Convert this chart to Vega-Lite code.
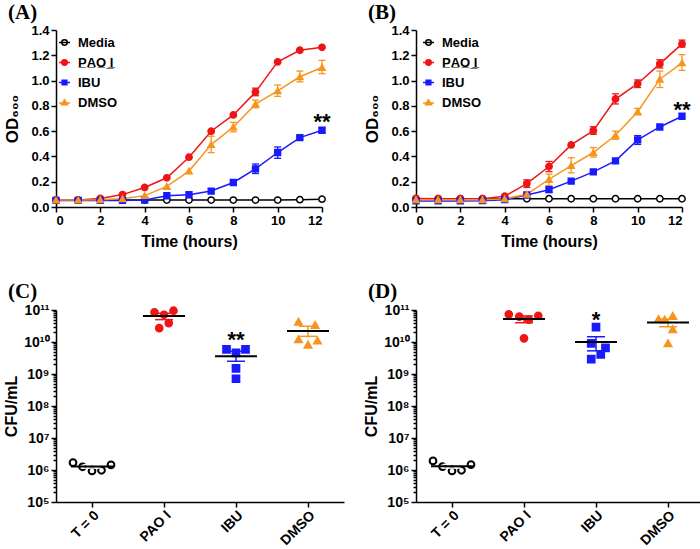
{
  "$schema": "https://vega.github.io/schema/vega-lite/v6.json",
  "padding": {"left": 3, "top": 2, "right": 0, "bottom": 0},
  "background": "white",
  "columns": 2,
  "spacing": {"row": 103, "column": 72},
  "bounds": "flush",
  "resolve": {
    "scale": {"shape": "independent", "fill": "independent", "stroke": "independent"},
    "legend": {"shape": "independent", "fill": "independent", "stroke": "independent"}
  },
  "config": {
    "font": "Liberation Sans",
    "view": {"stroke": null},
    "axis": {"domainColor": "black", "domainWidth": 1.5, "tickColor": "black", "tickWidth": 1.5, "tickSize": 5, "labelColor": "black", "labelFont": "Liberation Sans", "labelFontWeight": "bold", "labelFontSize": 13, "labelPadding": 2, "labelOverlap": false, "titleColor": "black", "titleFont": "Liberation Sans", "titleFontWeight": "bold", "titleFontSize": 16, "grid": false},
    "legend": {"orient": "none", "title": null, "labelFont": "Liberation Sans", "labelFontSize": 13, "labelFontWeight": "bold", "labelColor": "black", "symbolSize": 30, "symbolStrokeWidth": 1.5, "symbolOpacity": 1, "labelOffset": 7, "rowPadding": 6},
    "title": {"anchor": "start", "frame": "group", "dx": -48, "font": "Liberation Serif", "fontSize": 21, "fontWeight": "bold", "color": "black", "offset": 1}
  },
  "datasets": {
    "growth": [
      {"panel":"A","series":"Media","t":0,"od":0.055},{"panel":"A","series":"Media","t":1,"od":0.055},{"panel":"A","series":"Media","t":2,"od":0.055},{"panel":"A","series":"Media","t":3,"od":0.055},{"panel":"A","series":"Media","t":4,"od":0.055},{"panel":"A","series":"Media","t":5,"od":0.055},{"panel":"A","series":"Media","t":6,"od":0.055},{"panel":"A","series":"Media","t":7,"od":0.055},{"panel":"A","series":"Media","t":8,"od":0.055},{"panel":"A","series":"Media","t":9,"od":0.055},{"panel":"A","series":"Media","t":10,"od":0.055},{"panel":"A","series":"Media","t":11,"od":0.058},{"panel":"A","series":"Media","t":12,"od":0.062},
      {"panel":"A","series":"PAO I","t":0,"od":0.055},{"panel":"A","series":"PAO I","t":1,"od":0.055},{"panel":"A","series":"PAO I","t":2,"od":0.068},{"panel":"A","series":"PAO I","t":3,"od":0.098},{"panel":"A","series":"PAO I","t":4,"od":0.154},{"panel":"A","series":"PAO I","t":5,"od":0.231},{"panel":"A","series":"PAO I","t":6,"od":0.394},{"panel":"A","series":"PAO I","t":7,"od":0.599},{"panel":"A","series":"PAO I","t":8,"od":0.728},{"panel":"A","series":"PAO I","t":9,"od":0.909},{"panel":"A","series":"PAO I","t":10,"od":1.148},{"panel":"A","series":"PAO I","t":11,"od":1.24},{"panel":"A","series":"PAO I","t":12,"od":1.263},
      {"panel":"A","series":"IBU","t":0,"od":0.052},{"panel":"A","series":"IBU","t":1,"od":0.052},{"panel":"A","series":"IBU","t":2,"od":0.052},{"panel":"A","series":"IBU","t":3,"od":0.052},{"panel":"A","series":"IBU","t":4,"od":0.055},{"panel":"A","series":"IBU","t":5,"od":0.089},{"panel":"A","series":"IBU","t":6,"od":0.097},{"panel":"A","series":"IBU","t":7,"od":0.126},{"panel":"A","series":"IBU","t":8,"od":0.194},{"panel":"A","series":"IBU","t":9,"od":0.302},{"panel":"A","series":"IBU","t":10,"od":0.431},{"panel":"A","series":"IBU","t":11,"od":0.549},{"panel":"A","series":"IBU","t":12,"od":0.607},
      {"panel":"A","series":"DMSO","t":0,"od":0.055},{"panel":"A","series":"DMSO","t":1,"od":0.055},{"panel":"A","series":"DMSO","t":2,"od":0.058},{"panel":"A","series":"DMSO","t":3,"od":0.065},{"panel":"A","series":"DMSO","t":4,"od":0.09},{"panel":"A","series":"DMSO","t":5,"od":0.163},{"panel":"A","series":"DMSO","t":6,"od":0.284},{"panel":"A","series":"DMSO","t":7,"od":0.494},{"panel":"A","series":"DMSO","t":8,"od":0.633},{"panel":"A","series":"DMSO","t":9,"od":0.814},{"panel":"A","series":"DMSO","t":10,"od":0.919},{"panel":"A","series":"DMSO","t":11,"od":1.03},{"panel":"A","series":"DMSO","t":12,"od":1.103},
      {"panel":"B","series":"Media","t":0,"od":0.065},{"panel":"B","series":"Media","t":1,"od":0.065},{"panel":"B","series":"Media","t":2,"od":0.065},{"panel":"B","series":"Media","t":3,"od":0.065},{"panel":"B","series":"Media","t":4,"od":0.065},{"panel":"B","series":"Media","t":5,"od":0.065},{"panel":"B","series":"Media","t":6,"od":0.065},{"panel":"B","series":"Media","t":7,"od":0.065},{"panel":"B","series":"Media","t":8,"od":0.065},{"panel":"B","series":"Media","t":9,"od":0.065},{"panel":"B","series":"Media","t":10,"od":0.065},{"panel":"B","series":"Media","t":11,"od":0.065},{"panel":"B","series":"Media","t":12,"od":0.065},
      {"panel":"B","series":"PAO I","t":0,"od":0.068},{"panel":"B","series":"PAO I","t":1,"od":0.065},{"panel":"B","series":"PAO I","t":2,"od":0.065},{"panel":"B","series":"PAO I","t":3,"od":0.065},{"panel":"B","series":"PAO I","t":4,"od":0.085},{"panel":"B","series":"PAO I","t":5,"od":0.185},{"panel":"B","series":"PAO I","t":6,"od":0.32},{"panel":"B","series":"PAO I","t":7,"od":0.491},{"panel":"B","series":"PAO I","t":8,"od":0.604},{"panel":"B","series":"PAO I","t":9,"od":0.854},{"panel":"B","series":"PAO I","t":10,"od":0.975},{"panel":"B","series":"PAO I","t":11,"od":1.132},{"panel":"B","series":"PAO I","t":12,"od":1.29},
      {"panel":"B","series":"IBU","t":0,"od":0.048},{"panel":"B","series":"IBU","t":1,"od":0.048},{"panel":"B","series":"IBU","t":2,"od":0.048},{"panel":"B","series":"IBU","t":3,"od":0.05},{"panel":"B","series":"IBU","t":4,"od":0.058},{"panel":"B","series":"IBU","t":5,"od":0.095},{"panel":"B","series":"IBU","t":6,"od":0.137},{"panel":"B","series":"IBU","t":7,"od":0.205},{"panel":"B","series":"IBU","t":8,"od":0.278},{"panel":"B","series":"IBU","t":9,"od":0.365},{"panel":"B","series":"IBU","t":10,"od":0.531},{"panel":"B","series":"IBU","t":11,"od":0.633},{"panel":"B","series":"IBU","t":12,"od":0.718},
      {"panel":"B","series":"DMSO","t":0,"od":0.058},{"panel":"B","series":"DMSO","t":1,"od":0.058},{"panel":"B","series":"DMSO","t":2,"od":0.058},{"panel":"B","series":"DMSO","t":3,"od":0.058},{"panel":"B","series":"DMSO","t":4,"od":0.065},{"panel":"B","series":"DMSO","t":5,"od":0.1},{"panel":"B","series":"DMSO","t":6,"od":0.218},{"panel":"B","series":"DMSO","t":7,"od":0.328},{"panel":"B","series":"DMSO","t":8,"od":0.431},{"panel":"B","series":"DMSO","t":9,"od":0.567},{"panel":"B","series":"DMSO","t":10,"od":0.754},{"panel":"B","series":"DMSO","t":11,"od":1.011},{"panel":"B","series":"DMSO","t":12,"od":1.14}
    ],
    "growthErr": [
      {"panel":"A","series":"PAO I","t":9,"lo":0.88,"hi":0.94},
      {"panel":"A","series":"IBU","t":9,"lo":0.265,"hi":0.34},{"panel":"A","series":"IBU","t":10,"lo":0.385,"hi":0.475},{"panel":"A","series":"IBU","t":11,"lo":0.535,"hi":0.56},{"panel":"A","series":"IBU","t":12,"lo":0.59,"hi":0.625},
      {"panel":"A","series":"DMSO","t":7,"lo":0.43,"hi":0.56},{"panel":"A","series":"DMSO","t":8,"lo":0.595,"hi":0.67},{"panel":"A","series":"DMSO","t":9,"lo":0.785,"hi":0.845},{"panel":"A","series":"DMSO","t":10,"lo":0.875,"hi":0.965},{"panel":"A","series":"DMSO","t":11,"lo":0.99,"hi":1.075},{"panel":"A","series":"DMSO","t":12,"lo":1.055,"hi":1.16},
      {"panel":"B","series":"PAO I","t":5,"lo":0.155,"hi":0.215},{"panel":"B","series":"PAO I","t":6,"lo":0.28,"hi":0.36},{"panel":"B","series":"PAO I","t":8,"lo":0.575,"hi":0.635},{"panel":"B","series":"PAO I","t":9,"lo":0.815,"hi":0.895},{"panel":"B","series":"PAO I","t":10,"lo":0.945,"hi":1.005},{"panel":"B","series":"PAO I","t":11,"lo":1.1,"hi":1.165},{"panel":"B","series":"PAO I","t":12,"lo":1.265,"hi":1.32},
      {"panel":"B","series":"IBU","t":6,"lo":0.115,"hi":0.16},{"panel":"B","series":"IBU","t":10,"lo":0.495,"hi":0.565},
      {"panel":"B","series":"DMSO","t":6,"lo":0.17,"hi":0.26},{"panel":"B","series":"DMSO","t":7,"lo":0.27,"hi":0.39},{"panel":"B","series":"DMSO","t":8,"lo":0.395,"hi":0.47},{"panel":"B","series":"DMSO","t":9,"lo":0.535,"hi":0.6},{"panel":"B","series":"DMSO","t":10,"lo":0.73,"hi":0.78},{"panel":"B","series":"DMSO","t":11,"lo":0.945,"hi":1.075},{"panel":"B","series":"DMSO","t":12,"lo":1.08,"hi":1.205}
    ],
    "cfu": [
      {"panel":"C","group":"T = 0","slot":-2,"cfu":1.7e6},{"panel":"C","group":"T = 0","slot":-1,"cfu":1.26e6},{"panel":"C","group":"T = 0","slot":0,"cfu":9.3e5},{"panel":"C","group":"T = 0","slot":1,"cfu":9.8e5},{"panel":"C","group":"T = 0","slot":2,"cfu":1.45e6},
      {"panel":"C","group":"PAO I","slot":-1,"cfu":8.45e10},{"panel":"C","group":"PAO I","slot":0,"cfu":7.1e10},{"panel":"C","group":"PAO I","slot":1,"cfu":9.5e10},{"panel":"C","group":"PAO I","slot":-0.5,"cfu":2.7e10},{"panel":"C","group":"PAO I","slot":0.5,"cfu":3.9e10},
      {"panel":"C","group":"IBU","slot":-1,"cfu":5.9e9},{"panel":"C","group":"IBU","slot":0,"cfu":4.6e9},{"panel":"C","group":"IBU","slot":1,"cfu":5.9e9},{"panel":"C","group":"IBU","slot":0,"cfu":1.5e9},{"panel":"C","group":"IBU","slot":0,"cfu":7.1e8},
      {"panel":"C","group":"DMSO","slot":-1,"cfu":4.3e10},{"panel":"C","group":"DMSO","slot":0.75,"cfu":3.4e10},{"panel":"C","group":"DMSO","slot":-1,"cfu":1.2e10},{"panel":"C","group":"DMSO","slot":0,"cfu":8.2e9},{"panel":"C","group":"DMSO","slot":1,"cfu":1.1e10},
      {"panel":"D","group":"T = 0","slot":-2,"cfu":1.92e6},{"panel":"D","group":"T = 0","slot":-1,"cfu":1.28e6},{"panel":"D","group":"T = 0","slot":0,"cfu":9.3e5},{"panel":"D","group":"T = 0","slot":1,"cfu":9.8e5},{"panel":"D","group":"T = 0","slot":2,"cfu":1.48e6},
      {"panel":"D","group":"PAO I","slot":-1.6,"cfu":7.3e10},{"panel":"D","group":"PAO I","slot":-0.5,"cfu":6.2e10},{"panel":"D","group":"PAO I","slot":0.5,"cfu":5.0e10},{"panel":"D","group":"PAO I","slot":1.5,"cfu":6.6e10},{"panel":"D","group":"PAO I","slot":0,"cfu":1.3e10},
      {"panel":"D","group":"IBU","slot":0,"cfu":2.9e10},{"panel":"D","group":"IBU","slot":-0.5,"cfu":9.0e9},{"panel":"D","group":"IBU","slot":1,"cfu":6.6e9},{"panel":"D","group":"IBU","slot":0.5,"cfu":4.1e9},{"panel":"D","group":"IBU","slot":-0.5,"cfu":2.9e9},
      {"panel":"D","group":"DMSO","slot":-1,"cfu":5.2e10},{"panel":"D","group":"DMSO","slot":-0.35,"cfu":5.0e10},{"panel":"D","group":"DMSO","slot":0.5,"cfu":6.5e10},{"panel":"D","group":"DMSO","slot":0.5,"cfu":2.5e10},{"panel":"D","group":"DMSO","slot":0,"cfu":9.0e9}
    ],
    "summary": [
      {"panel":"C","group":"T = 0","mean":1.28e6,"lo":1.15e6,"hi":1.45e6},
      {"panel":"C","group":"PAO I","mean":6.5e10,"lo":5.0e10,"hi":7.9e10},
      {"panel":"C","group":"IBU","mean":3.6e9,"lo":2.5e9,"hi":5.1e9},
      {"panel":"C","group":"DMSO","mean":2.2e10,"lo":1.5e10,"hi":3.1e10},
      {"panel":"D","group":"T = 0","mean":1.3e6,"lo":1.15e6,"hi":1.5e6},
      {"panel":"D","group":"PAO I","mean":5.2e10,"lo":4.0e10,"hi":6.5e10},
      {"panel":"D","group":"IBU","mean":1.0e10,"lo":5.3e9,"hi":1.46e10},
      {"panel":"D","group":"DMSO","mean":4.1e10,"lo":3.0e10,"hi":5.2e10}
    ],
    "stars": [
      {"panel":"A","t":12,"group":"IBU","y":0.71,"label":"**"},
      {"panel":"B","t":12,"group":"IBU","y":0.81,"label":"**"},
      {"panel":"C","t":12,"group":"IBU","y":1.65e10,"label":"**"},
      {"panel":"D","t":12,"group":"IBU","y":7.1e10,"label":"*"}
    ]
  },
  "concat": [
    {
      "title": {"text": "(A)"},
      "width": 266, "height": 177,
      "encoding": {
        "x": {"field": "t", "type": "quantitative", "scale": {"domain": [0, 12], "nice": false}, "axis": {"values": [0,2,4,6,8,10,12], "format": "d", "title": "Time (hours)", "titlePadding": 6}}
      },
      "layer": [
        {"data": {"name": "growth"}, "transform": [{"filter": "datum.panel === 'A'"}],
         "mark": {"type": "line", "strokeWidth": 1.5},
         "encoding": {
           "y": {"field": "od", "type": "quantitative", "scale": {"domain": [0, 1.4], "nice": false}, "axis": {"values": [0,0.2,0.4,0.6,0.8,1.0,1.2,1.4], "tickCount": 8, "format": ".1f", "labelOverlap": false, "title": "OD₆₀₀", "titleFontSize": 17, "titlePadding": 9}},
           "stroke": {"field": "series", "type": "nominal", "scale": {"domain": ["Media","PAO I","IBU","DMSO"], "range": ["black","#f01414","#1a1aff","#f7941e"]}}
         }},
        {"data": {"name": "growthErr"}, "transform": [{"filter": "datum.panel === 'A'"}],
         "mark": {"type": "rule", "strokeWidth": 1.3},
         "encoding": {"y": {"field": "lo", "type": "quantitative", "axis": {"values": [0,0.2,0.4,0.6,0.8,1.0,1.2,1.4], "tickCount": 8, "format": ".1f", "labelOverlap": false, "title": "OD₆₀₀", "titleFontSize": 17, "titlePadding": 9}}, "y2": {"field": "hi"},
           "stroke": {"field": "series", "type": "nominal"}}},
        {"data": {"name": "growthErr"}, "transform": [{"filter": "datum.panel === 'A'"}],
         "mark": {"type": "tick", "orient": "horizontal", "size": 7, "thickness": 1.3, "opacity": 1},
         "encoding": {"y": {"field": "lo", "type": "quantitative", "axis": {"values": [0,0.2,0.4,0.6,0.8,1.0,1.2,1.4], "tickCount": 8, "format": ".1f", "labelOverlap": false, "title": "OD₆₀₀", "titleFontSize": 17, "titlePadding": 9}}, "fill": {"field": "series", "type": "nominal"}}},
        {"data": {"name": "growthErr"}, "transform": [{"filter": "datum.panel === 'A'"}],
         "mark": {"type": "tick", "orient": "horizontal", "size": 7, "thickness": 1.3, "opacity": 1},
         "encoding": {"y": {"field": "hi", "type": "quantitative", "axis": {"values": [0,0.2,0.4,0.6,0.8,1.0,1.2,1.4], "tickCount": 8, "format": ".1f", "labelOverlap": false, "title": "OD₆₀₀", "titleFontSize": 17, "titlePadding": 9}}, "fill": {"field": "series", "type": "nominal"}}},
        {"data": {"name": "growth"}, "transform": [{"filter": "datum.panel === 'A' && (datum.series === 'Media' || datum.series === 'PAO I')"}],
         "mark": {"type": "point", "shape": "circle", "filled": true, "strokeWidth": 1.5, "opacity": 1, "size": 40},
         "encoding": {
           "y": {"field": "od", "type": "quantitative", "axis": {"values": [0,0.2,0.4,0.6,0.8,1.0,1.2,1.4], "tickCount": 8, "format": ".1f", "labelOverlap": false, "title": "OD₆₀₀", "titleFontSize": 17, "titlePadding": 9}},
           "fill": {"field": "series", "type": "nominal", "scale": {"domain": ["Media","PAO I","IBU","DMSO"], "range": ["white","#f01414","#1a1aff","#f7941e"]}},
           "stroke": {"field": "series", "type": "nominal"}
         }},
        {"data": {"name": "growth"}, "transform": [{"filter": "datum.panel === 'A' && datum.series === 'IBU'"}],
         "mark": {"type": "point", "shape": "square", "filled": true, "strokeWidth": 1.5, "opacity": 1, "size": 34},
         "encoding": {"y": {"field": "od", "type": "quantitative"}, "fill": {"field": "series", "type": "nominal"}, "stroke": {"field": "series", "type": "nominal"}}},
        {"data": {"name": "growth"}, "transform": [{"filter": "datum.panel === 'A' && datum.series === 'DMSO'"}],
         "mark": {"type": "point", "shape": "triangle-up", "filled": true, "strokeWidth": 1.5, "opacity": 1, "size": 40},
         "encoding": {"y": {"field": "od", "type": "quantitative"}, "fill": {"field": "series", "type": "nominal"}, "stroke": {"field": "series", "type": "nominal"}}},
        {"data": {"name": "growth"}, "transform": [{"filter": "datum.panel === 'A'"}],
         "mark": {"type": "point", "filled": true, "opacity": 0, "size": 30},
         "encoding": {
           "y": {"field": "od", "type": "quantitative"},
           "shape": {"field": "series", "type": "nominal", "scale": {"domain": ["Media","PAO I","IBU","DMSO"], "range": ["M-2,0L2,0M1,0A1,1,0,1,1,-1,0A1,1,0,1,1,1,0Z", "M-2,0L2,0M1,0A1,1,0,1,1,-1,0A1,1,0,1,1,1,0Z", "M-2,0L2,0M-0.85,-0.85L0.85,-0.85L0.85,0.85L-0.85,0.85Z", "M-2,0.2L2,0.2M0,-1L1.1,0.85L-1.1,0.85Z"]},
             "legend": {"legendX": 2, "legendY": 6, "symbolOpacity": 1, "labelExpr": "datum.label === 'PAO I' ? 'P̲A̲O̲ ̲I̲' : datum.label"}},
           "fill": {"field": "series", "type": "nominal"},
           "stroke": {"field": "series", "type": "nominal"}
         }},
        {"data": {"name": "stars"}, "transform": [{"filter": "datum.panel === 'A'"}],
         "mark": {"type": "text", "font": "Liberation Sans", "fontWeight": "bold", "fontSize": 22, "baseline": "alphabetic", "dy": 12, "color": "black"},
         "encoding": {"y": {"field": "y", "type": "quantitative"}, "text": {"field": "label"}}}
      ]
    },
    {
      "title": {"text": "(B)"},
      "width": 266, "height": 177,
      "encoding": {
        "x": {"field": "t", "type": "quantitative", "scale": {"domain": [0, 12], "nice": false}, "axis": {"values": [0,2,4,6,8,10,12], "format": "d", "title": "Time (hours)", "titlePadding": 6}}
      },
      "layer": [
        {"data": {"name": "growth"}, "transform": [{"filter": "datum.panel === 'B'"}],
         "mark": {"type": "line", "strokeWidth": 1.5},
         "encoding": {
           "y": {"field": "od", "type": "quantitative", "scale": {"domain": [0, 1.4], "nice": false}, "axis": {"values": [0,0.2,0.4,0.6,0.8,1.0,1.2,1.4], "tickCount": 8, "format": ".1f", "labelOverlap": false, "title": "OD₆₀₀", "titleFontSize": 17, "titlePadding": 9}},
           "stroke": {"field": "series", "type": "nominal", "scale": {"domain": ["Media","PAO I","IBU","DMSO"], "range": ["black","#f01414","#1a1aff","#f7941e"]}}
         }},
        {"data": {"name": "growthErr"}, "transform": [{"filter": "datum.panel === 'B'"}],
         "mark": {"type": "rule", "strokeWidth": 1.3},
         "encoding": {"y": {"field": "lo", "type": "quantitative", "axis": {"values": [0,0.2,0.4,0.6,0.8,1.0,1.2,1.4], "tickCount": 8, "format": ".1f", "labelOverlap": false, "title": "OD₆₀₀", "titleFontSize": 17, "titlePadding": 9}}, "y2": {"field": "hi"},
           "stroke": {"field": "series", "type": "nominal"}}},
        {"data": {"name": "growthErr"}, "transform": [{"filter": "datum.panel === 'B'"}],
         "mark": {"type": "tick", "orient": "horizontal", "size": 7, "thickness": 1.3, "opacity": 1},
         "encoding": {"y": {"field": "lo", "type": "quantitative", "axis": {"values": [0,0.2,0.4,0.6,0.8,1.0,1.2,1.4], "tickCount": 8, "format": ".1f", "labelOverlap": false, "title": "OD₆₀₀", "titleFontSize": 17, "titlePadding": 9}}, "fill": {"field": "series", "type": "nominal"}}},
        {"data": {"name": "growthErr"}, "transform": [{"filter": "datum.panel === 'B'"}],
         "mark": {"type": "tick", "orient": "horizontal", "size": 7, "thickness": 1.3, "opacity": 1},
         "encoding": {"y": {"field": "hi", "type": "quantitative", "axis": {"values": [0,0.2,0.4,0.6,0.8,1.0,1.2,1.4], "tickCount": 8, "format": ".1f", "labelOverlap": false, "title": "OD₆₀₀", "titleFontSize": 17, "titlePadding": 9}}, "fill": {"field": "series", "type": "nominal"}}},
        {"data": {"name": "growth"}, "transform": [{"filter": "datum.panel === 'B' && (datum.series === 'Media' || datum.series === 'PAO I')"}],
         "mark": {"type": "point", "shape": "circle", "filled": true, "strokeWidth": 1.5, "opacity": 1, "size": 40},
         "encoding": {
           "y": {"field": "od", "type": "quantitative", "axis": {"values": [0,0.2,0.4,0.6,0.8,1.0,1.2,1.4], "tickCount": 8, "format": ".1f", "labelOverlap": false, "title": "OD₆₀₀", "titleFontSize": 17, "titlePadding": 9}},
           "fill": {"field": "series", "type": "nominal", "scale": {"domain": ["Media","PAO I","IBU","DMSO"], "range": ["white","#f01414","#1a1aff","#f7941e"]}},
           "stroke": {"field": "series", "type": "nominal"}
         }},
        {"data": {"name": "growth"}, "transform": [{"filter": "datum.panel === 'B' && datum.series === 'IBU'"}],
         "mark": {"type": "point", "shape": "square", "filled": true, "strokeWidth": 1.5, "opacity": 1, "size": 34},
         "encoding": {"y": {"field": "od", "type": "quantitative"}, "fill": {"field": "series", "type": "nominal"}, "stroke": {"field": "series", "type": "nominal"}}},
        {"data": {"name": "growth"}, "transform": [{"filter": "datum.panel === 'B' && datum.series === 'DMSO'"}],
         "mark": {"type": "point", "shape": "triangle-up", "filled": true, "strokeWidth": 1.5, "opacity": 1, "size": 40},
         "encoding": {"y": {"field": "od", "type": "quantitative"}, "fill": {"field": "series", "type": "nominal"}, "stroke": {"field": "series", "type": "nominal"}}},
        {"data": {"name": "growth"}, "transform": [{"filter": "datum.panel === 'B'"}],
         "mark": {"type": "point", "filled": true, "opacity": 0, "size": 30},
         "encoding": {
           "y": {"field": "od", "type": "quantitative"},
           "shape": {"field": "series", "type": "nominal", "scale": {"domain": ["Media","PAO I","IBU","DMSO"], "range": ["M-2,0L2,0M1,0A1,1,0,1,1,-1,0A1,1,0,1,1,1,0Z", "M-2,0L2,0M1,0A1,1,0,1,1,-1,0A1,1,0,1,1,1,0Z", "M-2,0L2,0M-0.85,-0.85L0.85,-0.85L0.85,0.85L-0.85,0.85Z", "M-2,0.2L2,0.2M0,-1L1.1,0.85L-1.1,0.85Z"]},
             "legend": {"legendX": 6, "legendY": 6, "symbolOpacity": 1, "labelExpr": "datum.label === 'PAO I' ? 'P̲A̲O̲ ̲I̲' : datum.label"}},
           "fill": {"field": "series", "type": "nominal"},
           "stroke": {"field": "series", "type": "nominal"}
         }},
        {"data": {"name": "stars"}, "transform": [{"filter": "datum.panel === 'B'"}],
         "mark": {"type": "text", "font": "Liberation Sans", "fontWeight": "bold", "fontSize": 22, "baseline": "alphabetic", "dy": 12, "color": "black"},
         "encoding": {"y": {"field": "y", "type": "quantitative"}, "text": {"field": "label"}}}
      ]
    },
    {
      "title": {"text": "(C)"},
      "width": 288, "height": 192,
      "encoding": {
        "x": {"field": "group", "type": "nominal", "scale": {"domain": ["T = 0","PAO I","IBU","DMSO"], "paddingInner": 0, "paddingOuter": 0}, "axis": {"title": null, "labelAngle": -45, "labelAlign": "right", "labelBaseline": "top", "labelPadding": 1, "labelFontSize": 14}}
      },
      "layer": [
        {"data": {"name": "cfu"}, "transform": [{"filter": "datum.panel === 'C'"}],
         "mark": {"type": "point", "filled": true, "strokeWidth": 2, "opacity": 1},
         "encoding": {
           "xOffset": {"field": "slot", "type": "quantitative", "scale": {"domain": [-2, 2], "range": [17, 55]}},
           "y": {"field": "cfu", "type": "quantitative", "scale": {"type": "log", "domain": [1e5, 1e11], "nice": false},
             "axis": {"title": "CFU/mL", "titlePadding": 4, "labelFontSize": 14, "labelOverlap": false,
               "values": [1e5,2e5,3e5,4e5,5e5,6e5,7e5,8e5,9e5,1e6,2e6,3e6,4e6,5e6,6e6,7e6,8e6,9e6,1e7,2e7,3e7,4e7,5e7,6e7,7e7,8e7,9e7,1e8,2e8,3e8,4e8,5e8,6e8,7e8,8e8,9e8,1e9,2e9,3e9,4e9,5e9,6e9,7e9,8e9,9e9,1e10,2e10,3e10,4e10,5e10,6e10,7e10,8e10,9e10,1e11],
               "labelExpr": "abs(log(datum.value)/LN10 - round(log(datum.value)/LN10)) < 1e-6 ? '10' + ['','','','','','⁵','⁶','⁷','⁸','⁹','¹⁰','¹¹'][round(log(datum.value)/LN10)] : ''",
               "tickSize": {"condition": {"test": "abs(log(datum.value)/LN10 - round(log(datum.value)/LN10)) < 1e-6", "value": 5}, "value": 3}}},
           "shape": {"field": "group", "type": "nominal", "scale": {"domain": ["T = 0","PAO I","IBU","DMSO"], "range": ["circle","circle","square","triangle-up"]}, "legend": null},
           "fill": {"field": "group", "type": "nominal", "scale": {"domain": ["T = 0","PAO I","IBU","DMSO"], "range": ["white","#f01414","#1a1aff","#f7941e"]}, "legend": null},
           "stroke": {"field": "group", "type": "nominal", "scale": {"domain": ["T = 0","PAO I","IBU","DMSO"], "range": ["black","#f01414","#1a1aff","#f7941e"]}, "legend": null},
           "size": {"value": 45}
         }},
        {"data": {"name": "summary"}, "transform": [{"filter": "datum.panel === 'C'"}],
         "mark": {"type": "rule", "strokeWidth": 1.5},
         "encoding": {"y": {"field": "lo", "type": "quantitative"}, "y2": {"field": "hi"}, "stroke": {"field": "group", "type": "nominal", "legend": null}}},
        {"data": {"name": "summary"}, "transform": [{"filter": "datum.panel === 'C'"}],
         "mark": {"type": "tick", "orient": "horizontal", "size": 18, "thickness": 1.5, "opacity": 1},
         "encoding": {"y": {"field": "lo", "type": "quantitative"}, "fill": {"field": "group", "type": "nominal", "legend": null}}},
        {"data": {"name": "summary"}, "transform": [{"filter": "datum.panel === 'C'"}],
         "mark": {"type": "tick", "orient": "horizontal", "size": 18, "thickness": 1.5, "opacity": 1},
         "encoding": {"y": {"field": "hi", "type": "quantitative"}, "fill": {"field": "group", "type": "nominal", "legend": null}}},
        {"data": {"name": "summary"}, "transform": [{"filter": "datum.panel === 'C'"}],
         "mark": {"type": "tick", "orient": "horizontal", "size": 42, "thickness": 2, "color": "black", "opacity": 1},
         "encoding": {"y": {"field": "mean", "type": "quantitative"}}},
        {"data": {"name": "stars"}, "transform": [{"filter": "datum.panel === 'C'"}],
         "mark": {"type": "text", "font": "Liberation Sans", "fontWeight": "bold", "fontSize": 22, "baseline": "alphabetic", "dy": 12, "color": "black"},
         "encoding": {"y": {"field": "y", "type": "quantitative"}, "text": {"field": "label"}}}
      ]
    },
    {
      "title": {"text": "(D)"},
      "width": 288, "height": 192,
      "encoding": {
        "x": {"field": "group", "type": "nominal", "scale": {"domain": ["T = 0","PAO I","IBU","DMSO"], "paddingInner": 0, "paddingOuter": 0}, "axis": {"title": null, "labelAngle": -45, "labelAlign": "right", "labelBaseline": "top", "labelPadding": 1, "labelFontSize": 14}}
      },
      "layer": [
        {"data": {"name": "cfu"}, "transform": [{"filter": "datum.panel === 'D'"}],
         "mark": {"type": "point", "filled": true, "strokeWidth": 2, "opacity": 1},
         "encoding": {
           "xOffset": {"field": "slot", "type": "quantitative", "scale": {"domain": [-2, 2], "range": [17, 55]}},
           "y": {"field": "cfu", "type": "quantitative", "scale": {"type": "log", "domain": [1e5, 1e11], "nice": false},
             "axis": {"title": "CFU/mL", "titlePadding": 4, "labelFontSize": 14, "labelOverlap": false,
               "values": [1e5,2e5,3e5,4e5,5e5,6e5,7e5,8e5,9e5,1e6,2e6,3e6,4e6,5e6,6e6,7e6,8e6,9e6,1e7,2e7,3e7,4e7,5e7,6e7,7e7,8e7,9e7,1e8,2e8,3e8,4e8,5e8,6e8,7e8,8e8,9e8,1e9,2e9,3e9,4e9,5e9,6e9,7e9,8e9,9e9,1e10,2e10,3e10,4e10,5e10,6e10,7e10,8e10,9e10,1e11],
               "labelExpr": "abs(log(datum.value)/LN10 - round(log(datum.value)/LN10)) < 1e-6 ? '10' + ['','','','','','⁵','⁶','⁷','⁸','⁹','¹⁰','¹¹'][round(log(datum.value)/LN10)] : ''",
               "tickSize": {"condition": {"test": "abs(log(datum.value)/LN10 - round(log(datum.value)/LN10)) < 1e-6", "value": 5}, "value": 3}}},
           "shape": {"field": "group", "type": "nominal", "scale": {"domain": ["T = 0","PAO I","IBU","DMSO"], "range": ["circle","circle","square","triangle-up"]}, "legend": null},
           "fill": {"field": "group", "type": "nominal", "scale": {"domain": ["T = 0","PAO I","IBU","DMSO"], "range": ["white","#f01414","#1a1aff","#f7941e"]}, "legend": null},
           "stroke": {"field": "group", "type": "nominal", "scale": {"domain": ["T = 0","PAO I","IBU","DMSO"], "range": ["black","#f01414","#1a1aff","#f7941e"]}, "legend": null},
           "size": {"value": 45}
         }},
        {"data": {"name": "summary"}, "transform": [{"filter": "datum.panel === 'D'"}],
         "mark": {"type": "rule", "strokeWidth": 1.5},
         "encoding": {"y": {"field": "lo", "type": "quantitative"}, "y2": {"field": "hi"}, "stroke": {"field": "group", "type": "nominal", "legend": null}}},
        {"data": {"name": "summary"}, "transform": [{"filter": "datum.panel === 'D'"}],
         "mark": {"type": "tick", "orient": "horizontal", "size": 18, "thickness": 1.5, "opacity": 1},
         "encoding": {"y": {"field": "lo", "type": "quantitative"}, "fill": {"field": "group", "type": "nominal", "legend": null}}},
        {"data": {"name": "summary"}, "transform": [{"filter": "datum.panel === 'D'"}],
         "mark": {"type": "tick", "orient": "horizontal", "size": 18, "thickness": 1.5, "opacity": 1},
         "encoding": {"y": {"field": "hi", "type": "quantitative"}, "fill": {"field": "group", "type": "nominal", "legend": null}}},
        {"data": {"name": "summary"}, "transform": [{"filter": "datum.panel === 'D'"}],
         "mark": {"type": "tick", "orient": "horizontal", "size": 42, "thickness": 2, "color": "black", "opacity": 1},
         "encoding": {"y": {"field": "mean", "type": "quantitative"}}},
        {"data": {"name": "stars"}, "transform": [{"filter": "datum.panel === 'D'"}],
         "mark": {"type": "text", "font": "Liberation Sans", "fontWeight": "bold", "fontSize": 22, "baseline": "alphabetic", "dy": 12, "color": "black"},
         "encoding": {"y": {"field": "y", "type": "quantitative"}, "text": {"field": "label"}}}
      ]
    }
  ]
}
